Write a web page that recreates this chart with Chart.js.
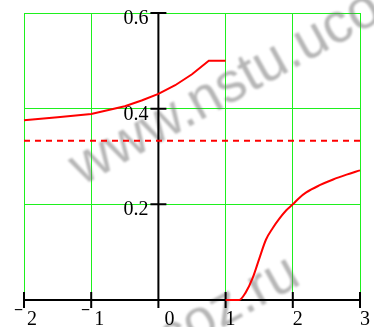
<!DOCTYPE html>
<html>
<head>
<meta charset="utf-8">
<script src="https://cdn.jsdelivr.net/npm/chart.js@4"></script>
<style>
html,body{margin:0;padding:0;background:#fff;}
#wrap{width:374px;height:327px;position:relative;}
</style>
</head>
<body>
<div id="wrap"><canvas id="c" width="374" height="327"></canvas></div>
<script>
// ---- data ----
const leftX  = [-2, -1.5, -1, -0.5, -0.25, 0, 0.25, 0.5, 0.75, 1.0];
const leftY  = [0.376, 0.382, 0.389, 0.405, 0.417, 0.431, 0.449, 0.472, 0.5, 0.5];
const rightX = [1.0, 1.2, 1.3, 1.4, 1.5, 1.6, 1.7, 1.8, 1.9, 2.0, 2.1, 2.2, 2.4, 2.6, 2.8, 3.0];
const rightY = [0, 0, 0.016, 0.045, 0.086, 0.126, 0.15, 0.17, 0.187, 0.2, 0.214, 0.225, 0.24, 0.252, 0.262, 0.271];
const levelX = [-2, 3];
const levelY = [0.333, 0.333];
const xTicks = [-2, -1, 0, 1, 2, 3];
const yTicks = [0.2, 0.4, 0.6];
const xTickLabels = ["−2", "−1", "0", "1", "2", "3"];
const yTickLabels = ["0.2", "0.4", "0.6"];
const watermark = "www.nstu.ucoz.ru";

const toPts = (xs, ys) => xs.map((x, i) => ({x: x, y: ys[i]}));

const axesPlugin = {
  id: 'axesPlugin',
  beforeDatasetsDraw(chart) {
    const ctx = chart.ctx;
    const xs = chart.scales.x, ys = chart.scales.y;
    // watermark
    ctx.save();
    ctx.filter = 'blur(1.2px)';
    ctx.fillStyle = 'rgba(110,110,110,0.5)';
    ctx.font = '56px "Liberation Sans", Arial, sans-serif';
    ctx.textBaseline = 'alphabetic';
    ctx.textAlign = 'left';
    ctx.translate(82, 186);
    ctx.rotate(-29 * Math.PI / 180);
    ctx.fillText(watermark, 0, 0);
    ctx.fillText(watermark, -293, 192);
    ctx.restore();

    // axes
    ctx.save();
    ctx.strokeStyle = '#000';
    ctx.lineWidth = 2;
    const y0 = ys.getPixelForValue(0);
    const x0 = xs.getPixelForValue(0);
    ctx.beginPath();
    ctx.moveTo(xs.getPixelForValue(xTicks[0]), y0);
    ctx.lineTo(xs.getPixelForValue(xTicks[xTicks.length - 1]), y0);
    ctx.moveTo(x0, y0);
    ctx.lineTo(x0, ys.getPixelForValue(yTicks[yTicks.length - 1]));
    xTicks.forEach(v => {
      const px = xs.getPixelForValue(v);
      ctx.moveTo(px, y0 - 8);
      ctx.lineTo(px, y0 + 8);
    });
    yTicks.forEach(v => {
      const py = ys.getPixelForValue(v);
      ctx.moveTo(x0 - 8, py);
      ctx.lineTo(x0 + 8, py);
    });
    ctx.stroke();

    ctx.fillStyle = '#000';
    ctx.font = '20px "Liberation Serif", "Times New Roman", serif';
    ctx.textBaseline = 'alphabetic';
    // y labels
    ctx.textAlign = 'right';
    yTicks.forEach((v, i) => {
      ctx.fillText(yTickLabels[i], x0 - 10, ys.getPixelForValue(v) + 11);
    });
    // x labels
    xTicks.forEach((v, i) => {
      const px = xs.getPixelForValue(v);
      let t = xTickLabels[i];
      ctx.textAlign = 'left';
      if (t.startsWith('−')) {
        const digits = t.slice(1);
        ctx.fillText(digits, px + 3, y0 + 24.5);
        ctx.save();
        ctx.textAlign = 'right';
        ctx.font = 'bold 16px "Liberation Serif", serif';
        ctx.fillText('−', px - 1, y0 + 15);
        ctx.restore();
      } else {
        const off = v === 0 ? 6 : 0;
        ctx.fillText(t, px + off, y0 + 24.5);
      }
    });
    ctx.restore();
  }
};

new Chart(document.getElementById('c'), {
  type: 'scatter',
  data: {
    datasets: [
      { data: toPts(leftX, leftY), showLine: true, borderColor: '#ff0000', borderWidth: 2, pointRadius: 0, tension: 0, fill: false, clip: 4 },
      { data: toPts(rightX, rightY), showLine: true, borderColor: '#ff0000', borderWidth: 2, pointRadius: 0, cubicInterpolationMode: 'monotone', fill: false, clip: 4 },
      { data: toPts(levelX, levelY), showLine: true, borderColor: '#ff0000', borderWidth: 2, borderDash: [6, 5], pointRadius: 0, fill: false, clip: 4 }
    ]
  },
  options: {
    responsive: false,
    animation: false,
    events: [],
    layout: { padding: { left: 24, right: 14, top: 13, bottom: 27 } },
    plugins: { legend: { display: false }, tooltip: { enabled: false } },
    scales: {
      x: {
        type: 'linear', min: -2, max: 3,
        ticks: { display: false, stepSize: 1 },
        grid: { color: '#1ef01e', lineWidth: 1, drawTicks: false },
        border: { display: false }
      },
      y: {
        type: 'linear', min: 0, max: 0.6,
        ticks: { display: false, stepSize: 0.2 },
        grid: { color: '#1ef01e', lineWidth: 1, drawTicks: false },
        border: { display: false }
      }
    }
  },
  plugins: [axesPlugin]
});
</script>
</body>
</html>
